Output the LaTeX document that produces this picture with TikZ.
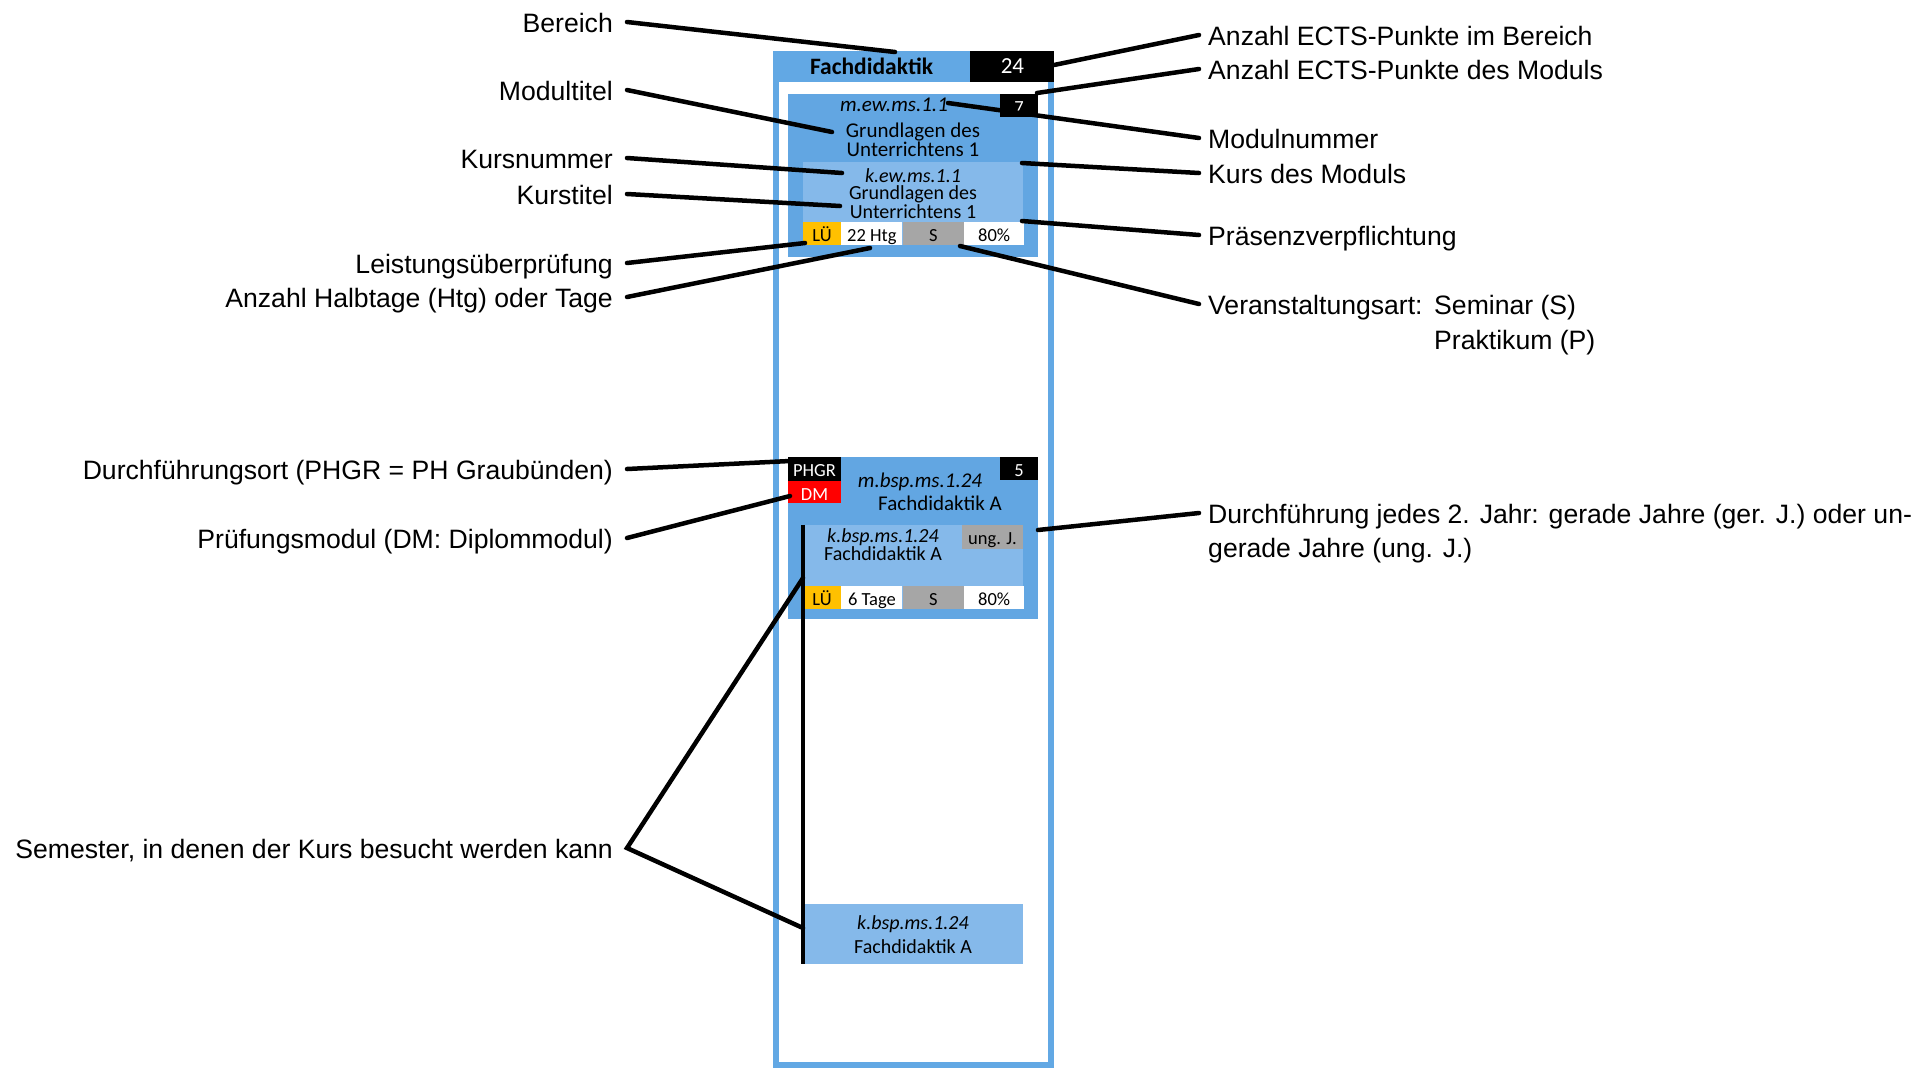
\documentclass[tikz,border=0pt]{standalone}
\usepackage{fontspec}
\setmainfont{Liberation Sans}
\newfontfamily\calfont{Carlito}
\usetikzlibrary{positioning}

\definecolor{areablue}{RGB}{98,168,228}
\definecolor{modblue}{RGB}{98,166,226}
\definecolor{kursblue}{RGB}{133,185,234}
\definecolor{luegelb}{RGB}{255,192,0}
\definecolor{artgrau}{RGB}{166,166,166}

\tikzset{
  box/.style={rectangle, inner sep=0pt},
  cell/.style={box, minimum height=23pt, text height=15.5pt, text depth=0pt, font=\calfont\fontsize{18.5}{20}\selectfont},
  modtxt/.style={inner sep=0pt, align=center, font=\calfont\fontsize{21}{18}\selectfont},
  kurstxt/.style={inner sep=0pt, align=center, font=\calfont\fontsize{20}{17}\selectfont},
  lbl/.style={inner ysep=0pt, text height=20pt, text depth=0pt, font=\fontsize{26.6}{32}\selectfont},
  lbll/.style={lbl, anchor=east, inner xsep=14pt},
  lblr/.style={lbl, anchor=west, inner xsep=9pt},
  con/.style={line width=4.5pt, line cap=round},
}

\begin{document}
\begin{tikzpicture}[x=1pt, y=-1pt]
  \useasboundingbox (0,0) rectangle (1926,1069);

  % Bereich
  \node[box, draw=areablue, line width=6pt, minimum width=275pt, minimum height=1011pt] (area) at (913.5,559.5) {};
  \node[box, fill=areablue, minimum width=197pt, minimum height=31pt, font=\calfont\bfseries\fontsize{23.5}{28}\selectfont] (hdr) at (871.5,66.5) {Fachdidaktik};
  \node[box, fill=black, text=white, minimum width=84pt, minimum height=31pt, font=\calfont\fontsize{23}{26}\selectfont, right=0pt of hdr] (ects24) {24};

  % Modul 1
  \node[box, fill=modblue, minimum width=250pt, minimum height=163pt] (mod1) at (913,175.5) {};
  \node[cell, fill=black, text=white, minimum width=38pt, anchor=north east] (ects7) at (mod1.north east) {7};
  \node[modtxt, font=\calfont\itshape\fontsize{21}{18}\selectfont] (modnum1) at (894,105) {m.ew.ms.1.1};
  \node[modtxt] (modtit1) at (913,139.5) {Grundlagen des\\Unterrichtens 1};
  \node[box, fill=kursblue, minimum width=220pt, minimum height=83pt] (kurs1) at (913,203.5) {};
  \node[kurstxt, font=\calfont\itshape\fontsize{20}{17}\selectfont] (kursnum1) at (913,176) {k.ew.ms.1.1};
  \node[kurstxt] (kurstit1) at (913,202) {Grundlagen des\\Unterrichtens 1};
  \node[cell, fill=luegelb, minimum width=38pt, anchor=south west] (lue1) at (kurs1.south west) {LÜ};
  \node[cell, fill=white, minimum width=61pt, right=0pt of lue1] (htg1) {22 Htg};
  \node[cell, fill=artgrau, minimum width=61pt, right=0pt of htg1] (art1) {S};
  \node[cell, fill=white, minimum width=60pt, right=0pt of art1] (pres1) {80\%};

  % Modul 2
  \node[box, fill=modblue, minimum width=250pt, minimum height=162pt] (mod2) at (913,538) {};
  \node[cell, fill=black, text=white, minimum width=53pt, minimum height=24pt, anchor=north west] (phgr) at (mod2.north west) {PHGR};
  \node[cell, fill=red, text=white, minimum width=53pt, minimum height=22pt, below=0pt of phgr] (dm) {DM};
  \node[cell, fill=black, text=white, minimum width=38pt, anchor=north east] (ects5) at (mod2.north east) {5};
  \node[modtxt, font=\calfont\itshape\fontsize{21}{18}\selectfont] (modnum2) at (920,482) {m.bsp.ms.1.24};
  \node[modtxt] (modtit2) at (940,503) {Fachdidaktik A};
  \node[box, fill=kursblue, minimum width=220pt, minimum height=84pt] (kurs2) at (913,567) {};
  \node[cell, fill=artgrau, minimum width=61pt, minimum height=24pt, anchor=north east] (ung2) at (kurs2.north east) {ung. J.};
  \node[kurstxt, font=\calfont\itshape\fontsize{20}{17}\selectfont] (kursnum2) at (883,537) {k.bsp.ms.1.24};
  \node[kurstxt] (kurstit2) at (883,554) {Fachdidaktik A};
  \node[cell, fill=luegelb, minimum width=38pt, anchor=south west] (lue2) at (kurs2.south west) {LÜ};
  \node[cell, fill=white, minimum width=61pt, right=0pt of lue2] (htg2) {6 Tage};
  \node[cell, fill=artgrau, minimum width=61pt, right=0pt of htg2] (art2) {S};
  \node[cell, fill=white, minimum width=60pt, right=0pt of art2] (pres2) {80\%};

  % Kurs im spaeteren Semester
  \node[box, fill=kursblue, minimum width=220pt, minimum height=60pt] (kurs3) at (913,934) {};
  \node[kurstxt, font=\calfont\itshape\fontsize{20}{17}\selectfont] (kursnum3) at (913,924) {k.bsp.ms.1.24};
  \node[kurstxt] (kurstit3) at (913,947) {Fachdidaktik A};
  \draw[line width=4pt] (kurs2.north west) -- (kurs3.south west);

  % Beschriftungen links
  \node[lbll] (bereich) at (627,22) {Bereich};
  \node[lbll] (modultitel) at (627,90) {Modultitel};
  \node[lbll] (kursnummer) at (627,158) {Kursnummer};
  \node[lbll] (kurstitel) at (627,194) {Kurstitel};
  \node[lbll] (leistung) at (627,263) {Leistungsüberprüfung};
  \node[lbll] (halbtage) at (627,297) {Anzahl Halbtage (Htg) oder Tage};
  \node[lbll] (ort) at (627,469) {Durchführungsort (PHGR = PH Graubünden)};
  \node[lbll] (pruefung) at (627,538) {Prüfungsmodul (DM: Diplommodul)};
  \node[lbll] (semester) at (627,848) {Semester, in denen der Kurs besucht werden kann};

  % Beschriftungen rechts
  \node[lblr] (ectsb) at (1199,35) {Anzahl ECTS-Punkte im Bereich};
  \node[lblr] (ectsm) at (1199,69) {Anzahl ECTS-Punkte des Moduls};
  \node[lblr] (modulnummer) at (1199,138) {Modulnummer};
  \node[lblr] (kursmodul) at (1199,173) {Kurs des Moduls};
  \node[lblr] (praesenz) at (1199,235) {Präsenzverpflichtung};
  \node[lblr] (veranst) at (1199,304) {Veranstaltungsart:};
  \node[lbl, anchor=west, inner xsep=0pt] (seminar) at (1434,304) {Seminar (S)};
  \node[lbl, anchor=west, inner xsep=0pt] (praktikum) at (1434,339) {Praktikum (P)};
  \node[lblr] (jahr1) at (1199,513) {Durchführung jedes 2. Jahr: gerade Jahre (ger. J.) oder un-};
  \node[lblr] (jahr2) at (1199,547) {gerade Jahre (ung. J.)};

  % Zielpunkte
  \coordinate (pBereich) at (895,52);
  \coordinate (pModtitel) at (832,132);
  \coordinate (pKursnr) at (842,173);
  \coordinate (pKurstitel) at (840,206);
  \coordinate (pLue) at (805,243);
  \coordinate (pHtg) at (870,248);
  \coordinate (pOrt) at (790,461);
  \coordinate (pDM) at (790,496);
  \coordinate (pSemA) at (803,578);
  \coordinate (pSemB) at (803,928);
  \coordinate (pEctsB) at (1054,65);
  \coordinate (pEctsM) at (1037,93);
  \coordinate (pModnr) at (948,103);
  \coordinate (pKursMod) at (1022,163);
  \coordinate (pPraesenz) at (1022,221);
  \coordinate (pArt) at (960,246);
  \coordinate (pJahr) at (1038,530);

  % Verbindungen
  \draw[con] (bereich.east) -- (pBereich);
  \draw[con] (modultitel.east) -- (pModtitel);
  \draw[con] (kursnummer.east) -- (pKursnr);
  \draw[con] (kurstitel.east) -- (pKurstitel);
  \draw[con] (leistung.east) -- (pLue);
  \draw[con] (halbtage.east) -- (pHtg);
  \draw[con] (ort.east) -- (pOrt);
  \draw[con] (pruefung.east) -- (pDM);
  \draw[con, line join=miter] (pSemA) -- (semester.east) -- (pSemB);
  \draw[con] (pEctsB) -- (ectsb.west);
  \draw[con] (pEctsM) -- (ectsm.west);
  \draw[con] (pModnr) -- (modulnummer.west);
  \draw[con] (pKursMod) -- (kursmodul.west);
  \draw[con] (pPraesenz) -- (praesenz.west);
  \draw[con] (pArt) -- (veranst.west);
  \draw[con] (pJahr) -- (jahr1.west);
\end{tikzpicture}
\end{document}
